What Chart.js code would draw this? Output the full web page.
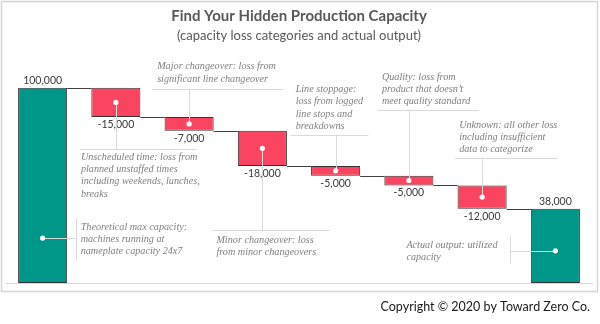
<!DOCTYPE html>
<html>
<head>
<meta charset="utf-8">
<script src="https://cdn.jsdelivr.net/npm/chart.js@4.4.1/dist/chart.umd.min.js"></script>
<style>
    html, body { margin: 0; padding: 0; background: #fff; }
    #wrap { position: relative; width: 600px; height: 324px; }
</style>
</head>
<body>
<div id="wrap"><canvas id="canvasId"></canvas></div>
<script>
// waterfall data
const categories = ['Theoretical max capacity', 'Unscheduled time', 'Major changeover', 'Minor changeover',
    'Line stoppage', 'Quality', 'Unknown', 'Actual output'];
const changes = [100000, -15000, -7000, -18000, -5000, -5000, -12000, 38000];
const isTotal = [true, false, false, false, false, false, false, true];
const valueLabels = ['100,000', '-15,000', '-7,000', '-18,000', '-5,000', '-5,000', '-12,000', '38,000'];
const notes = [
    ['Theoretical max capacity:', 'machines running at', 'nameplate capacity 24x7'],
    ['Unscheduled time: loss from', 'planned unstaffed times', 'including weekends, lunches,', 'breaks'],
    ['Major changeover: loss from', 'significant line changeover'],
    ['Minor changeover: loss', 'from minor changeovers'],
    ['Line stoppage:', 'loss from logged', 'line stops and', 'breakdowns'],
    ['Quality: loss from', 'product that doesn\u2019t', 'meet quality standard'],
    ['Unknown: all other loss', 'including insufficient', 'data to categorize'],
    ['Actual output: utilized', 'capacity'],
];

// callout layout (pixels relative to the dot on each bar)
const callouts = [
    { dir: 'right', at: 23000, len: 33, span: [-19, 22], tx: 38, ty: -11 },
    { dir: 'down', len: 47, span: [-36, 81], tx: -35, gap: 7.5 },
    { dir: 'up', len: 35, span: [-37, 94], tx: -32, gap: 10 },
    { dir: 'down', len: 82, span: [-50, 67], tx: -46, gap: 10 },
    { dir: 'up', len: 36, span: [-45, 33], tx: -40, gap: 8.5 },
    { dir: 'up', len: 71, span: [-31, 70], tx: -27, gap: 8 },
    { dir: 'up', len: 39, span: [-27, 75], tx: -23, gap: 8.4 },
    { dir: 'left', at: 16500, len: 45, span: [-14, 13], tx: -149, ty: -5.7 },
];

const TEAL = '#009688';
const RED = '#FB4560';

let running = 0;
const ranges = changes.map((c, i) => {
    if (isTotal[i]) { running = c; return [0, c]; }
    const r = [running + c, running];
    running += c;
    return r;
});

const waterfallPlugin = {
    id: 'waterfall',
    beforeDatasetsDraw(chart) {
        const ctx = chart.ctx;
        const meta = chart.getDatasetMeta(0);
        const y = chart.scales.y;
        ctx.save();
        ctx.strokeStyle = '#404040';
        ctx.lineWidth = 1;
        for (let i = 0; i < meta.data.length - 1; i++) {
            const a = meta.data[i], b = meta.data[i + 1];
            const level = isTotal[i] ? ranges[i][1] : ranges[i][0];
            const py = Math.round(y.getPixelForValue(level)) + 0.5;
            ctx.beginPath();
            ctx.moveTo(a.x + a.width / 2, py);
            ctx.lineTo(b.x - b.width / 2, py);
            ctx.stroke();
        }
        ctx.restore();
    },
    afterDatasetsDraw(chart) {
        const ctx = chart.ctx;
        const meta = chart.getDatasetMeta(0);
        const y = chart.scales.y;
        ctx.save();

        // value labels
        ctx.font = '10.5px Lato';
        ctx.fillStyle = '#3a3a3a';
        ctx.textAlign = 'center';
        ctx.textBaseline = 'middle';
        meta.data.forEach((bar, i) => {
            const top = Math.min(bar.y, bar.base), bottom = Math.max(bar.y, bar.base);
            if (isTotal[i]) ctx.fillText(valueLabels[i], bar.x, top - 7);
            else ctx.fillText(valueLabels[i], bar.x, bottom + 7.5);
        });

        // callouts
        ctx.strokeStyle = '#d9d9d9';
        ctx.lineWidth = 1;
        ctx.font = 'italic 10.2px "Liberation Serif"';
        ctx.textAlign = 'left';
        const lh = 12.3;
        meta.data.forEach((bar, i) => {
            const c = callouts[i];
            const dx = bar.x;
            const dy = c.at !== undefined ? y.getPixelForValue(c.at) : (bar.y + bar.base) / 2;
            const lines = notes[i];
            ctx.fillStyle = '#7f7f7f';
            ctx.beginPath();
            if (c.dir === 'up' || c.dir === 'down') {
                const hy = c.dir === 'up' ? dy - c.len : dy + c.len;
                ctx.moveTo(Math.round(dx) + 0.5, dy);
                ctx.lineTo(Math.round(dx) + 0.5, hy);
                ctx.moveTo(dx + c.span[0], Math.round(hy) + 0.5);
                ctx.lineTo(dx + c.span[1], Math.round(hy) + 0.5);
                ctx.stroke();
                const first = c.dir === 'up' ? hy - c.gap - (lines.length - 1) * lh : hy + c.gap;
                lines.forEach((t, k) => ctx.fillText(t, dx + c.tx, first + k * lh));
            } else {
                const vx = c.dir === 'right' ? dx + c.len : dx - c.len;
                ctx.moveTo(dx, Math.round(dy) + 0.5);
                ctx.lineTo(vx, Math.round(dy) + 0.5);
                ctx.moveTo(Math.round(vx) + 0.5, dy + c.span[0]);
                ctx.lineTo(Math.round(vx) + 0.5, dy + c.span[1]);
                ctx.stroke();
                lines.forEach((t, k) => ctx.fillText(t, dx + c.tx, dy + c.ty + k * lh));
            }
            ctx.fillStyle = '#ffffff';
            ctx.beginPath();
            ctx.arc(dx, dy, 2.6, 0, Math.PI * 2);
            ctx.fill();
        });
        ctx.restore();
    },
    afterDraw(chart) {
        const ctx = chart.ctx;
        ctx.save();
        ctx.strokeStyle = '#d6d6d6';
        ctx.lineWidth = 1.5;
        ctx.strokeRect(1.5, 1.5, 596, 290);
        ctx.font = '12.5px Lato';
        ctx.fillStyle = '#1a1a1a';
        ctx.textAlign = 'right';
        ctx.textBaseline = 'middle';
        ctx.fillText('Copyright \u00A9 2020 by Toward Zero Co.', 590, 307);
        ctx.restore();
    }
};

const ctx = document.querySelector('#canvasId');
const chart = new Chart(ctx, {
    type: 'bar',
    data: {
        labels: categories,
        datasets: [{
            data: ranges,
            backgroundColor: isTotal.map(t => t ? TEAL : RED),
            borderColor: '#333333',
            borderWidth: 1,
            borderSkipped: false,
            categoryPercentage: 1,
            barPercentage: 0.67,
        }],
    },
    options: {
        animation: false,
        responsive: true,
        maintainAspectRatio: false,
        devicePixelRatio: 1,
        layout: { padding: { left: 6, right: 8, top: 0, bottom: 41 } },
        scales: {
            x: {
                display: true,
                grid: { display: false, drawTicks: false },
                ticks: { display: false },
                border: { display: true, color: '#d9d9d9', width: 1 },
            },
            y: { display: false, min: 0, max: 100000 },
        },
        plugins: {
            legend: { display: false },
            tooltip: { enabled: false },
            title: {
                display: true,
                text: 'Find Your Hidden Production Capacity',
                color: '#595959',
                font: { family: 'Lato', size: 15, weight: 'bold', lineHeight: 1.2 },
                padding: { top: 7, bottom: 0 },
            },
            subtitle: {
                display: true,
                text: '(capacity loss categories and actual output)',
                color: '#595959',
                font: { family: 'Lato', size: 13, lineHeight: 1.2 },
                padding: { top: 3.2, bottom: 44 },
            },
        },
    },
    plugins: [waterfallPlugin],
});
</script>
</body>
</html>
